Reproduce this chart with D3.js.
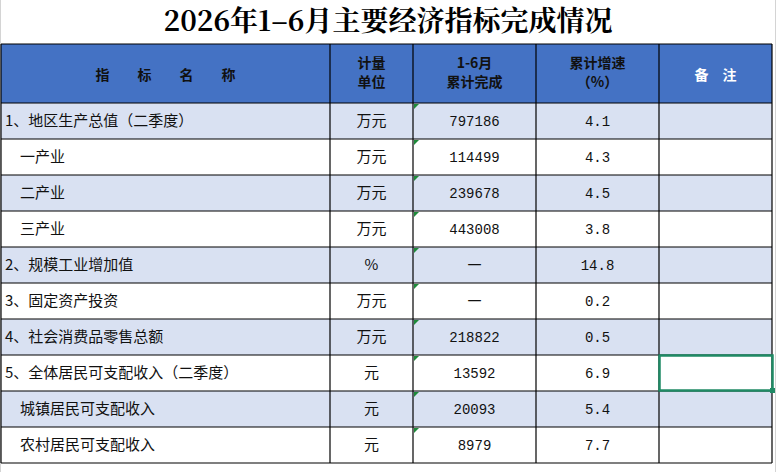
<!DOCTYPE html>
<html><head><meta charset="utf-8">
<script src="https://cdn.jsdelivr.net/npm/d3@7"></script>
<style>body{margin:0;background:#fff;} svg{display:block;}</style>
</head><body>
<div id="chart"></div>
<script>
// table data
let names = ["1、地区生产总值（二季度）", "　一产业", "　二产业", "　三产业", "2、规模工业增加值", "3、固定资产投资", "4、社会消费品零售总额", "5、全体居民可支配收入（二季度）", "　城镇居民可支配收入", "　农村居民可支配收入"];
let units = ["万元", "万元", "万元", "万元", "%", "万元", "万元", "元", "元", "元"];
let totals = ["797186", "114499", "239678", "443008", "一", "一", "218822", "13592", "20093", "8979"];
let growth = ["4.1", "4.3", "4.5", "3.8", "14.8", "0.2", "0.5", "6.9", "5.4", "7.7"];
let headers = [["指　　标　　名　　称"], ["计量", "单位"], ["1-6月", "累计完成"], ["累计增速", "（%）"], ["备　注"]];

let W = 777, H = 472;
let colEdges = [1, 330, 413, 536, 659, 772];
let svg = d3.select("#chart").append("svg").attr("width", W).attr("height", H);

// faint spreadsheet grid
svg.append("line").attr("x1", 775.5).attr("x2", 775.5).attr("y1", 0).attr("y2", H).attr("stroke", "#d4d4d4");
svg.append("line").attr("x1", 0.5).attr("x2", 0.5).attr("y1", 0).attr("y2", H).attr("stroke", "#d4d4d4");

svg.append("text").attr("x", 388).attr("y", 31).attr("text-anchor", "middle")
  .style("font-family", "'Noto Serif CJK SC','Noto Sans CJK SC',serif").style("font-weight", "bold")
  .style("font-size", "28px").text("2026年1–6月主要经济指标完成情况");

let y = d3.scaleBand().domain(d3.range(names.length)).range([103, 463]);
let font = "'Noto Sans CJK SC', sans-serif";

// header
svg.append("rect").attr("x", colEdges[0]).attr("y", 44).attr("width", colEdges[5] - colEdges[0]).attr("height", 59).attr("fill", "#4472c4");
headers.forEach((h, i) => {
  let cx = (colEdges[i] + colEdges[i + 1]) / 2;
  let t = svg.append("text").attr("x", cx).attr("text-anchor", "middle")
    .style("font-family", font).style("font-weight", "bold").style("font-size", "14px")
    .attr("fill", i == 4 ? "#fff" : "#111");
  let y0 = h.length == 1 ? 80 : 68;
  h.forEach((s, j) => t.append("tspan").attr("x", cx).attr("y", y0 + j * 19).text(s));
});

// body rows
let rows = svg.selectAll("g.row").data(names).enter().append("g").attr("class", "row");
rows.append("rect").attr("x", colEdges[0]).attr("y", (d, i) => y(i)).attr("width", colEdges[5] - colEdges[0])
  .attr("height", y.bandwidth()).attr("fill", (d, i) => i % 2 == 0 ? "#d9e1f2" : "#fff");
let cols = [names, units, totals, growth];
cols.forEach((arr, c) => {
  rows.append("text")
    .attr("x", c == 0 ? 5 : (colEdges[c] + colEdges[c + 1]) / 2)
    .attr("y", (d, i) => y(i) + y.bandwidth() / 2 + 5)
    .attr("text-anchor", c == 0 ? "start" : "middle")
    .style("font-family", c >= 2 ? "'Liberation Mono','Noto Sans CJK SC',monospace" : font)
    .style("font-size", c >= 2 ? "14px" : "15px").attr("fill", "#111")
    .text((d, i) => arr[i]);
});
// green markers in totals column
rows.append("path").attr("d", (d, i) => `M${colEdges[2] + 1},${y(i) + 1}h5l-5,5z`).attr("fill", "#1e8a3a");

// grid lines
let g = svg.append("g").attr("stroke", "#000").attr("stroke-width", 1.2);
colEdges.forEach(x => g.append("line").attr("x1", x).attr("x2", x).attr("y1", 44).attr("y2", 463));
[44].concat(d3.range(names.length).map(i => y(i)), [463]).forEach(yy =>
  g.append("line").attr("x1", colEdges[0]).attr("x2", colEdges[5]).attr("y1", yy).attr("y2", yy));

// selected cell
svg.append("rect").attr("x", colEdges[4] + 0.5).attr("y", y(7) + 0.5).attr("width", colEdges[5] - colEdges[4])
  .attr("height", y.bandwidth() - 1).attr("fill", "none").attr("stroke", "#1f8a65").attr("stroke-width", 2.5);
svg.append("rect").attr("x", colEdges[5] - 2).attr("y", y(8) - 3).attr("width", 5).attr("height", 5).attr("fill", "#1f8a65");
</script>
</body></html>
